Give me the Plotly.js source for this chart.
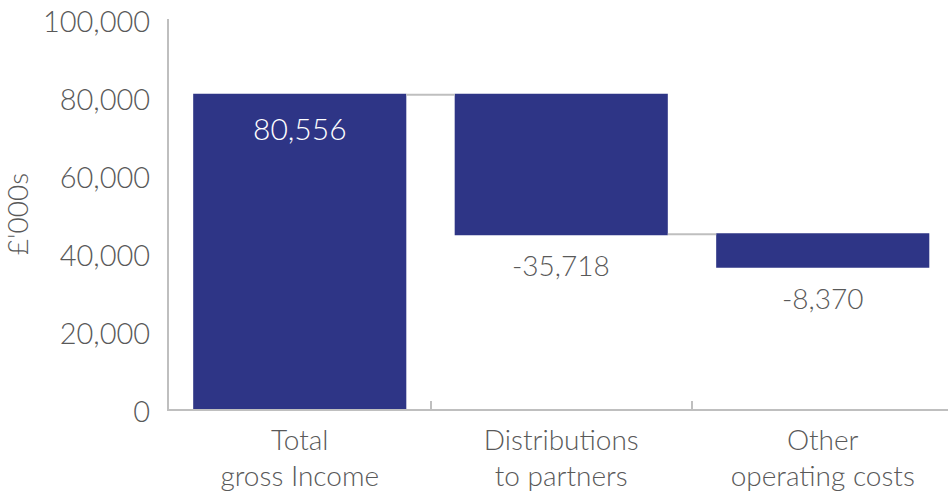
<!DOCTYPE html>
<html><head><meta charset="utf-8">
<script src="https://cdn.plot.ly/plotly-3.0.1.min.js"></script>
<style>html,body{margin:0;padding:0;background:#fff}#chart{width:948px;height:491px}</style>
</head><body><div id="chart"></div>
<script>
const categories = ["Total<br>gross Income", "Distributions<br>to partners", "Other<br>operating costs"];
const values = [80556, -35718, -8370];
const measures = ["absolute", "relative", "relative"];
const labels = ["80,556", "-35,718", "-8,370"];
const yTicks = [0, 20000, 40000, 60000, 80000, 100000];
const yTickText = ["0", "20,000", "40,000", "60,000", "80,000", "100,000"];

const navy = "#2E3586";
const grey = "#595959";
const lineGrey = "#BFBFBF";
const fam = "Lato, 'Open Sans', sans-serif";

const trace = {
  type: "waterfall",
  x: categories,
  y: values,
  measure: measures,
  textinfo: "none",
  increasing: {marker: {color: navy}},
  decreasing: {marker: {color: navy}},
  totals: {marker: {color: navy}},
  connector: {line: {color: lineGrey, width: 2}},
  hoverinfo: "none"
};

// value labels placed at the end of each bar via data coordinates
let running = 0;
const annotations = values.map((v, i) => {
  running = measures[i] === "absolute" ? v : running + v;
  const inside = v > 0;
  return {
    x: categories[i], y: running, xref: "x", yref: "y",
    text: labels[i], showarrow: false,
    yanchor: "middle", yshift: inside ? -33 : -31,
    font: {size: inside ? 30 : 28, color: inside ? "#ffffff" : grey, family: fam, weight: 300}
  };
});

const layout = {
  width: 948, height: 491,
  margin: {l: 169, r: 0, t: 19, b: 82},
  paper_bgcolor: "#fff", plot_bgcolor: "#fff",
  showlegend: false,
  waterfallgap: 0.185,
  font: {family: fam, color: grey, weight: 300},
  annotations: annotations,
  xaxis: {
    type: "category",
    range: [-0.5, 2.479],
    showline: true, linecolor: lineGrey, linewidth: 2,
    ticks: "inside", tickson: "boundaries", ticklen: 8, tickcolor: lineGrey, tickwidth: 2,
    showgrid: false, zeroline: false,
    ticklabelstandoff: 5,
    tickfont: {size: 28, color: grey, family: fam, weight: 300},
    fixedrange: true
  },
  yaxis: {
    range: [0, 100000],
    tickvals: yTicks, ticktext: yTickText,
    showline: true, linecolor: lineGrey, linewidth: 2,
    ticks: "", showgrid: false, zeroline: false,
    ticklabelstandoff: 11,
    ticklabelshift: 3,
    tickfont: {size: 29, color: grey, family: fam, weight: 300},
    title: {text: "£'000s", font: {size: 28, color: grey, family: fam, weight: 300}, standoff: 20},
    fixedrange: true
  }
};

Plotly.newPlot("chart", [trace], layout, {staticPlot: true, displayModeBar: false});
</script></body></html>
